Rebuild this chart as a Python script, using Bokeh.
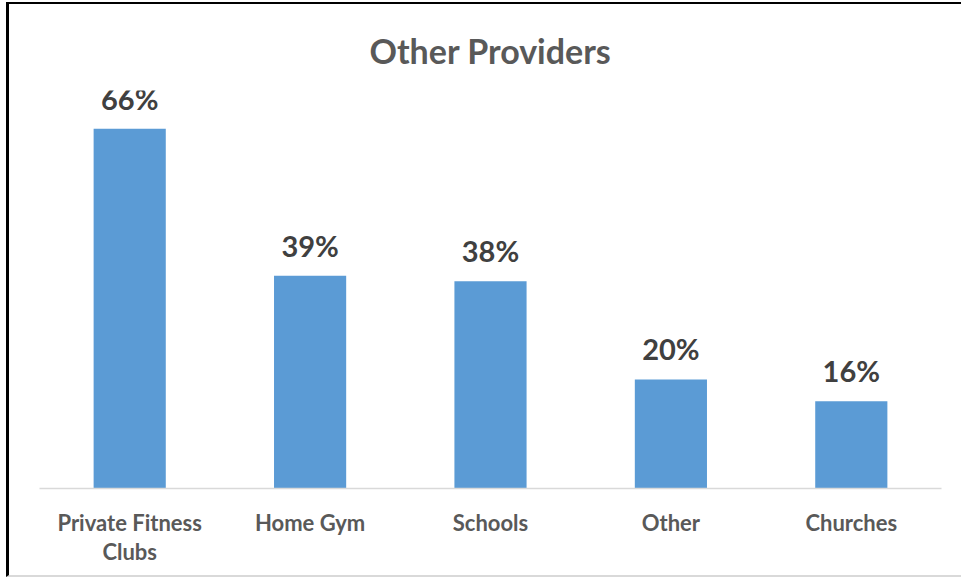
from bokeh.plotting import figure
from bokeh.models import ColumnDataSource, FactorRange, Range1d
from bokeh.core.properties import value
from bokeh.embed import file_html
from bokeh.resources import INLINE

# Share of respondents using each provider
categories = ["Private Fitness\nClubs", "Home Gym", "Schools", "Other", "Churches"]
shares = [66, 39, 38, 20, 16]
share_labels = ["66%", "39%", "38%", "20%", "16%"]

FONT = "Lato"

source = ColumnDataSource(data=dict(cat=categories, share=shares, label=share_labels))

p = figure(
    x_range=FactorRange(*categories, range_padding=0.0),
    y_range=Range1d(0, 73),
    width=955, height=575,
    output_backend="svg", toolbar_location=None,
    min_border_left=30, min_border_right=23, min_border_top=86, min_border_bottom=91,
    title="Other Providers",
    styles={
        "margin-left": "6px",
        "margin-top": "2px",
        "border-left": "3px solid #000000",
        "border-top": "2px solid #000000",
        "border-bottom": "2px solid #d9d9d9",
    },
)
p.outline_line_color = None
p.background_fill_color = "white"
p.border_fill_color = "white"

p.title.align = "center"
p.title.text_font = FONT
p.title.text_font_size = "34px"
p.title.text_font_style = "bold"
p.title.text_color = "#595959"
p.title.standoff = 39

p.vbar(x="cat", top="share", width=0.4, source=source,
       fill_color="#5B9BD5", line_color=None)

p.text(x="cat", y="share", text="label", source=source,
       text_align="center", text_baseline="bottom", y_offset=-13,
       text_font=value(FONT), text_font_size="29px", text_font_style="bold",
       text_color="#404040")

p.yaxis.visible = False
p.ygrid.visible = False
p.xgrid.visible = False

ax = p.xaxis[0]
ax.axis_line_color = "#d9d9d9"
ax.axis_line_width = 1.5
ax.major_tick_line_color = None
ax.minor_tick_line_color = None
ax.major_label_text_font = FONT
ax.major_label_text_font_size = "22px"
ax.major_label_text_font_style = "bold"
ax.major_label_text_color = "#595959"
ax.major_label_text_line_height = 1.1
ax.major_label_standoff = 14
ax.major_label_orientation = "horizontal"

open("out.html", "w").write(file_html(p, INLINE))
